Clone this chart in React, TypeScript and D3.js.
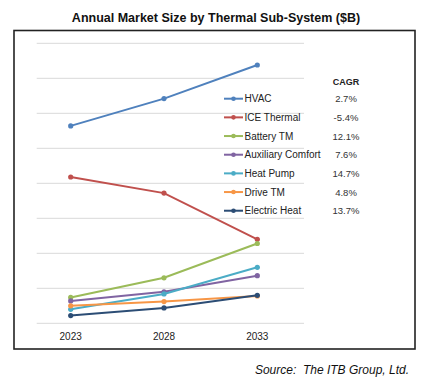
import React from "react";
import * as d3 from "d3";

const years = [2023, 2028, 2033];
const seriesNames = ["HVAC", "ICE Thermal", "Battery TM", "Auxiliary Comfort", "Heat Pump", "Drive TM", "Electric Heat"];
const hvac = [28.2, 32.1, 36.9];
const iceThermal = [20.9, 18.6, 12.0];
const batteryTM = [3.7, 6.5, 11.4];
const auxComfort = [3.2, 4.5, 6.8];
const heatPump = [2.0, 4.2, 8.0];
const driveTM = [2.5, 3.1, 3.9];
const electricHeat = [1.1, 2.2, 4.0];
const cagr = ["2.7%", "-5.4%", "12.1%", "7.6%", "14.7%", "4.8%", "13.7%"];
const colors = ["#4f81bd", "#c0504d", "#9bbb59", "#8064a2", "#4bacc6", "#f79646", "#2c4d75"];
const yTicks = [0, 5, 10, 15, 20, 25, 30, 35, 40];

const seriesValues = [hvac, iceThermal, batteryTM, auxComfort, heatPump, driveTM, electricHeat];
const drawOrder = [0, 1, 2, 3, 4, 5, 6];

export default function App() {
  const W = 429, H = 380;
  const x = d3.scaleLinear().domain([2023, 2033]).range([70.7, 257.3]);
  const y = d3.scaleLinear().domain([0, 40]).range([323.3, 43.3]);
  const line = d3.line<[number, number]>().x(d => x(d[0])).y(d => y(d[1]));
  const font = "'Liberation Sans', Arial, sans-serif";
  const legX = 224, legY0 = 98.7, legDy = 18.67;

  return (
    <div style={{ position: "absolute", left: 0, top: 0 }}>
      <svg width={W} height={H} style={{ display: "block", fontFamily: font }}>
        <rect x={0} y={0} width={W} height={H} fill="#fff" />
        <text x={216} y={22} textAnchor="middle" fontSize={12.5} fontWeight="bold" fill="#111">
          Annual Market Size by Thermal Sub-System ($B)
        </text>
        <rect x={14} y={30.5} width={401} height={318.5} fill="none" stroke="#222" strokeWidth={1.6} />
        {yTicks.map(t => (
          <line key={t} x1={36.7} x2={304} y1={y(t)} y2={y(t)} stroke="#d9d9d9" strokeWidth={1} />
        ))}
        {years.map(yr => (
          <text key={yr} x={x(yr)} y={339.5} textAnchor="middle" fontSize={10} fill="#222">{yr}</text>
        ))}
        {drawOrder.map(i => {
          const pts = years.map((yr, j) => [yr, seriesValues[i][j]] as [number, number]);
          return (
            <g key={i}>
              <path d={line(pts) || ""} fill="none" stroke={colors[i]} strokeWidth={2} />
              {pts.map((p, j) => (
                <circle key={j} cx={x(p[0])} cy={y(p[1])} r={2.6} fill={colors[i]} />
              ))}
            </g>
          );
        })}
        <text x={346} y={84.5} textAnchor="middle" fontSize={9} fontWeight="bold" fill="#222">CAGR</text>
        {seriesNames.map((name, i) => {
          const ly = legY0 + i * legDy;
          return (
            <g key={name}>
              <line x1={legX} x2={legX + 19} y1={ly} y2={ly} stroke={colors[i]} strokeWidth={2} />
              <circle cx={legX + 9.5} cy={ly} r={2.3} fill={colors[i]} />
              <text x={legX + 20.5} y={ly + 3.5} fontSize={10} fill="#222">{name}</text>
              <text x={346} y={ly + 3.5} textAnchor="middle" fontSize={9.5} fill="#333">{cagr[i]}</text>
            </g>
          );
        })}
        <text x={409} y={374} textAnchor="end" fontSize={12} fontStyle="italic" fill="#111" style={{ whiteSpace: "pre" }}>
          {"Source:  The ITB Group, Ltd."}
        </text>
      </svg>
    </div>
  );
}
